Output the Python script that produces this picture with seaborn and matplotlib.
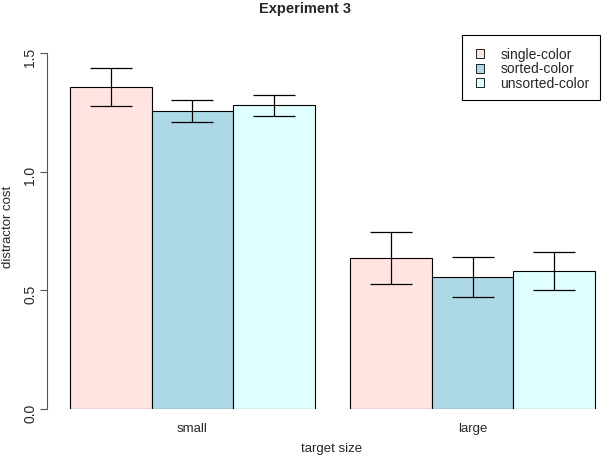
import matplotlib
matplotlib.use("Agg")
import matplotlib.pyplot as plt
from matplotlib.patches import Rectangle
import seaborn as sns
import pandas as pd
import numpy as np

sizes = ["small", "large"]
conditions = ["single-color", "sorted-color", "unsorted-color"]
# means per condition, for [small, large]
single_means = [1.357, 0.636]
sorted_means = [1.256, 0.556]
unsorted_means = [1.279, 0.580]
single_err = [0.080, 0.110]
sorted_err = [0.048, 0.085]
unsorted_err = [0.046, 0.080]
colors = ["#FFE4E1", "#ADD8E6", "#E0FFFF"]

rows = []
for cond, means, errs in zip(conditions,
                             [single_means, sorted_means, unsorted_means],
                             [single_err, sorted_err, unsorted_err]):
    for s, m, e in zip(sizes, means, errs):
        rows.append({"size": s, "cond": cond, "cost": m, "err": e})
df = pd.DataFrame(rows)

sns.set_style("white")
plt.rcParams["font.family"] = ["Liberation Sans", "DejaVu Sans"]

fig = plt.figure(figsize=(6.10, 4.57), dpi=100)
W, H = 610, 457
ax = fig.add_axes([60 / W, (H - 409) / H, (605 - 60) / W, (409 - 45) / H])

sns.barplot(data=df, x="size", y="cost", hue="cond", order=sizes,
            hue_order=conditions, palette=colors, width=0.875,
            edgecolor="black", linewidth=0.8, errorbar=None, ax=ax,
            saturation=1)

for cont, cond in zip(ax.containers, conditions):
    sub = df[df["cond"] == cond].set_index("size").loc[sizes]
    xs = [p.get_x() + p.get_width() / 2 for p in cont.patches]
    ax.errorbar(xs, sub["cost"].values, yerr=sub["err"].values, fmt="none",
                ecolor="black", elinewidth=0.9, capsize=15, capthick=0.9)

ax.set_xlim(-0.4732, 1.4732)
ax.set_ylim(0, (409 - 45) / 237.33)
ax.set_yticks([0.0, 0.5, 1.0, 1.5])
ax.set_yticklabels(["0.0", "0.5", "1.0", "1.5"], fontsize=9.5)
ax.tick_params(axis="y", left=True, length=5, width=0.8, color="#555555",
               pad=2, labelrotation=90)
for t in ax.get_yticklabels():
    t.set_verticalalignment("center")
    t.set_horizontalalignment("right")
    t.set_rotation_mode("anchor")
ax.tick_params(axis="x", bottom=False, length=0, labelsize=9.5, pad=10)
for s in ["top", "right", "bottom"]:
    ax.spines[s].set_visible(False)
ax.spines["left"].set_position(("outward", 9.4))
ax.spines["left"].set_bounds(0, 1.5)
ax.spines["left"].set_color("#555555")
ax.spines["left"].set_linewidth(0.8)

ax.set_xlabel("")
ax.set_ylabel("")
fig.text(332 / W, (H - 449) / H, "target size", fontsize=9.5,
         ha="center", va="center")
fig.text(8 / W, (H - 227) / H, "distractor cost", fontsize=9.5,
         ha="center", va="center", rotation=90)
fig.suptitle("Experiment 3", fontsize=10.5, fontweight="bold", y=0.995,
             va="top", x=0.5)

handles, labels = ax.get_legend_handles_labels()
leg = ax.legend(handles, labels, loc="upper left",
                bbox_to_anchor=(476 / W, (H - 47.5) / H),
                bbox_transform=fig.transFigure, fontsize=10, frameon=False,
                handlelength=0.6, handleheight=0.6, borderpad=0,
                labelspacing=0.04, handletextpad=1.15, borderaxespad=0)
for h in leg.legend_handles:
    h.set_edgecolor("black")
    h.set_linewidth(0.6)

fig.patches.append(Rectangle((462 / W, (H - 100) / H), 138 / W, 65 / H,
                             transform=fig.transFigure, fill=False,
                             edgecolor="black", linewidth=0.8))

fig.savefig("out.png", dpi=100)
